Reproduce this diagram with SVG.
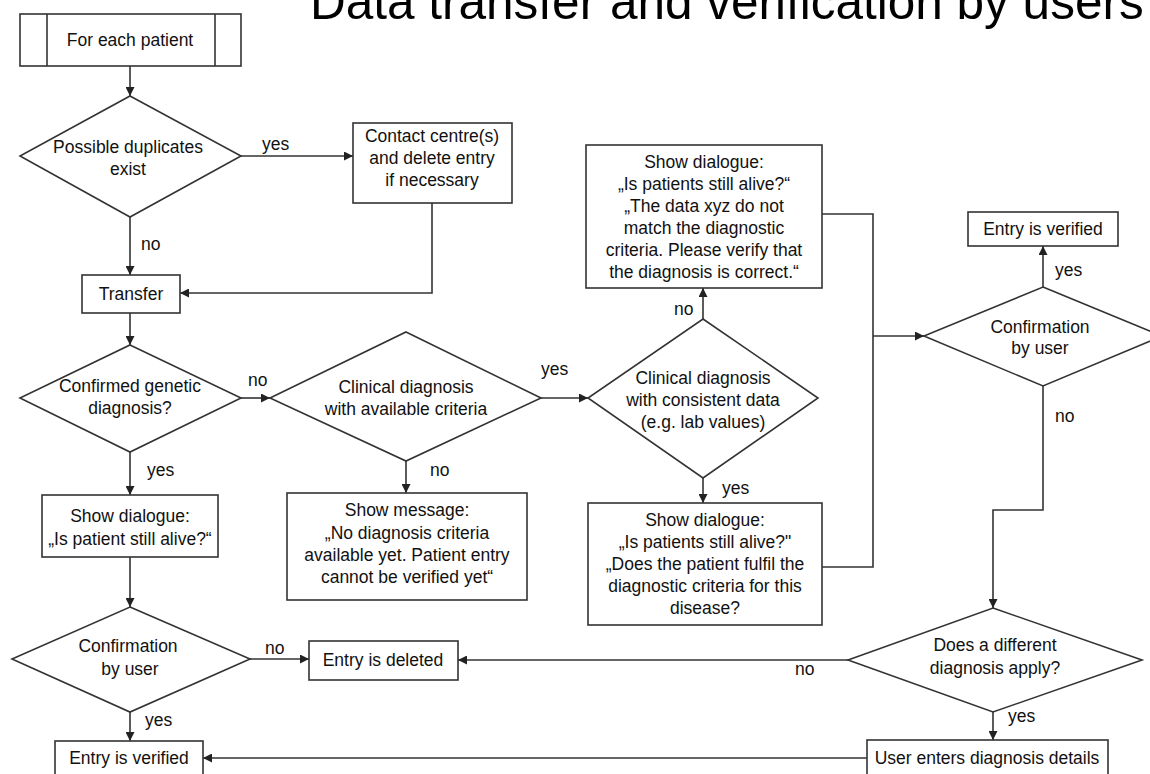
<svg xmlns="http://www.w3.org/2000/svg" width="1150" height="774" viewBox="0 0 1150 774">
<defs>
<marker id="arr" viewBox="0 0 10 10" refX="10" refY="5" markerWidth="9" markerHeight="9" markerUnits="userSpaceOnUse" orient="auto">
<path d="M0,0 L10,5 L0,10 z" fill="#222"/>
</marker>
<style>
text{font-family:"Liberation Sans",Arial,sans-serif;font-size:17.5px;fill:#111;}
.c{text-anchor:middle;}
.box{fill:#fff;stroke:#333;stroke-width:1.6;}
.ln{fill:none;stroke:#333;stroke-width:1.6;}
.ar{fill:none;stroke:#333;stroke-width:1.6;marker-end:url(#arr);}
.title{font-size:49.5px;fill:#000;}
</style>
</defs>
<rect width="1150" height="774" fill="#fff"/>
<text class="title" x="310" y="19">Data transfer and verification by users</text>

<g id="connectors">
<line class="ar" x1="130" y1="66" x2="130" y2="96"/>
<line class="ar" x1="241" y1="156" x2="353" y2="156"/>
<line class="ar" x1="130" y1="217" x2="130" y2="275"/>
<polyline class="ar" points="432,203 432,293 180,293"/>
<line class="ar" x1="130" y1="313" x2="130" y2="345"/>
<line class="ar" x1="241" y1="398" x2="270" y2="398"/>
<line class="ar" x1="541" y1="398" x2="588" y2="398"/>
<line class="ar" x1="703" y1="319" x2="703" y2="288"/>
<line class="ar" x1="703" y1="478" x2="703" y2="503"/>
<line class="ar" x1="406" y1="461" x2="406" y2="493"/>
<line class="ar" x1="130" y1="452" x2="130" y2="495"/>
<polyline class="ln" points="822,214 873,214 873,567 822,567"/>
<line class="ar" x1="873" y1="336" x2="924" y2="336"/>
<line class="ar" x1="1043" y1="287" x2="1043" y2="246"/>
<polyline class="ar" points="1043,386 1043,510 993,510 993,608"/>
<line class="ar" x1="130" y1="557" x2="130" y2="607"/>
<line class="ar" x1="250" y1="659" x2="309" y2="659"/>
<line class="ar" x1="848" y1="660" x2="458" y2="660"/>
<line class="ar" x1="130" y1="712" x2="130" y2="741"/>
<line class="ar" x1="993" y1="712" x2="993" y2="740"/>
<line class="ar" x1="867" y1="758" x2="203" y2="758"/>
<text x="262" y="150">yes</text>
<text x="141" y="250">no</text>
<text x="248" y="386">no</text>
<text x="541" y="375">yes</text>
<text x="430" y="476">no</text>
<text x="147" y="476">yes</text>
<text x="674" y="315">no</text>
<text x="722" y="494">yes</text>
<text x="1055" y="276">yes</text>
<text x="1055" y="422">no</text>
<text x="265" y="654">no</text>
<text x="145" y="726">yes</text>
<text x="795" y="675">no</text>
<text x="1008" y="722">yes</text>
</g>

<g id="for-each-patient">
<rect class="box" x="20" y="14" width="221" height="52"/>
<line class="ln" x1="47" y1="14" x2="47" y2="66"/>
<line class="ln" x1="215" y1="14" x2="215" y2="66"/>
<text class="c" x="130" y="46">For each patient</text>
</g>

<g id="possible-duplicates">
<polygon class="box" points="130,96 241,156 130,217 20,156"/>
<text class="c" x="128" y="153">Possible duplicates</text>
<text class="c" x="128" y="175">exist</text>
</g>

<g id="contact-centre">
<rect class="box" x="353" y="123" width="159" height="80"/>
<text class="c" x="432" y="142">Contact centre(s)</text>
<text class="c" x="432" y="164">and delete entry</text>
<text class="c" x="432" y="186">if necessary</text>
</g>

<g id="transfer">
<rect class="box" x="82" y="275" width="98" height="38"/>
<text class="c" x="131" y="300">Transfer</text>
</g>

<g id="confirmed-genetic">
<polygon class="box" points="130,345 241,398 130,452 20,398"/>
<text class="c" x="130" y="392">Confirmed genetic</text>
<text class="c" x="130" y="414">diagnosis?</text>
</g>

<g id="clinical-available">
<polygon class="box" points="406,332 541,398 406,461 270,398"/>
<text class="c" x="406" y="393">Clinical diagnosis</text>
<text class="c" x="406" y="415">with available criteria</text>
</g>

<g id="clinical-consistent">
<polygon class="box" points="703,319 818,398 703,478 588,398"/>
<text class="c" x="703" y="384">Clinical diagnosis</text>
<text class="c" x="703" y="406">with consistent data</text>
<text class="c" x="703" y="428">(e.g. lab values)</text>
</g>

<g id="dialogue-mismatch">
<rect class="box" x="586" y="145" width="236" height="143"/>
<text class="c" x="704" y="168">Show dialogue:</text>
<text class="c" x="704" y="190">„Is patients still alive?“</text>
<text class="c" x="704" y="212">„The data xyz do not</text>
<text class="c" x="704" y="234">match the diagnostic</text>
<text class="c" x="704" y="256">criteria. Please verify that</text>
<text class="c" x="704" y="278">the diagnosis is correct.“</text>
</g>

<g id="dialogue-fulfil">
<rect class="box" x="588" y="503" width="234" height="122"/>
<text class="c" x="705" y="526">Show dialogue:</text>
<text class="c" x="705" y="548">„Is patients still alive?"</text>
<text class="c" x="705" y="570">„Does the patient fulfil the</text>
<text class="c" x="705" y="592">diagnostic criteria for this</text>
<text class="c" x="705" y="614">disease?</text>
</g>

<g id="show-message">
<rect class="box" x="287" y="493" width="240" height="107"/>
<text class="c" x="407" y="516">Show message:</text>
<text class="c" x="407" y="539">„No diagnosis criteria</text>
<text class="c" x="407" y="561">available yet. Patient entry</text>
<text class="c" x="407" y="583">cannot be verified yet“</text>
</g>

<g id="dialogue-alive">
<rect class="box" x="42" y="495" width="176" height="62"/>
<text class="c" x="130" y="522">Show dialogue:</text>
<text class="c" x="130" y="545">„Is patient still alive?“</text>
</g>

<g id="confirm-right">
<polygon class="box" points="1043,287 1162,336 1043,386 924,336"/>
<text class="c" x="1040" y="333">Confirmation</text>
<text class="c" x="1040" y="354">by user</text>
</g>

<g id="verified-top">
<rect class="box" x="968" y="212" width="150" height="34"/>
<text class="c" x="1043" y="235">Entry is verified</text>
</g>

<g id="different-diagnosis">
<polygon class="box" points="993,608 1142,660 993,712 848,660"/>
<text class="c" x="995" y="651">Does a different</text>
<text class="c" x="995" y="674">diagnosis apply?</text>
</g>

<g id="confirm-left">
<polygon class="box" points="130,607 250,659 130,712 12,659"/>
<text class="c" x="128" y="652">Confirmation</text>
<text class="c" x="130" y="675">by user</text>
</g>

<g id="entry-deleted">
<rect class="box" x="309" y="641" width="149" height="39"/>
<text class="c" x="383" y="666">Entry is deleted</text>
</g>

<g id="verified-bottom">
<rect class="box" x="55" y="741" width="148" height="38"/>
<text class="c" x="129" y="764">Entry is verified</text>
</g>

<g id="user-enters">
<rect class="box" x="867" y="740" width="241" height="39"/>
<text class="c" x="987" y="764">User enters diagnosis details</text>
</g>
</svg>
